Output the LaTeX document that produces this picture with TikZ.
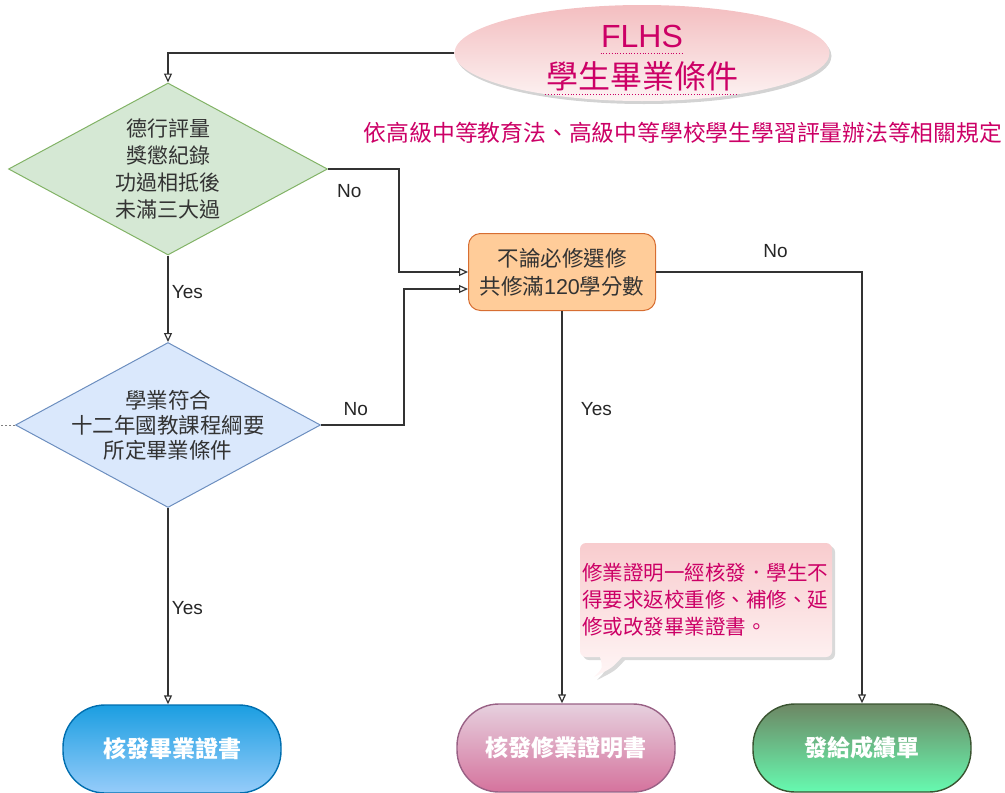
\documentclass[tikz,border=0pt]{standalone}
\usepackage{fontspec}
\setmainfont{Noto Sans CJK TC}
\newfontfamily\latinsf{Liberation Sans}
\usetikzlibrary{shapes.geometric,arrows.meta,shadows,calc}

\definecolor{flhs}{RGB}{204,0,102}
\definecolor{ink}{RGB}{51,51,51}

\begin{document}
\begin{tikzpicture}[x=1pt, y=-1pt, line width=1.2pt,
    every node/.style={font=\fontsize{21}{27}\selectfont, text=ink},
    arr/.style={draw=ink, -{Triangle[open,length=9pt,width=8pt]}},
    lbl/.style={font=\latinsf\fontsize{19}{22}\selectfont, text=black!85},
    dia/.style={diamond, line width=1pt, inner sep=0pt},
    dtext/.style={align=center, inner sep=0pt},
    term/.style={rectangle, rounded corners=42pt, minimum width=218pt,
      minimum height=88pt, line width=1.4pt, text=white,
      font=\fontsize{23}{27}\selectfont\bfseries},
    uline/.style={draw=flhs, line width=0.8pt, dotted}]
  %---- page
  \useasboundingbox (0,0) rectangle (1005,793);

  %---- title
  \node[ellipse, minimum width=375pt, minimum height=96pt,
    top color={rgb,255:red,243;green,190;blue,192},
    bottom color={rgb,255:red,253;green,243;blue,243},
    drop shadow={shadow xshift=2pt, shadow yshift=-3pt, opacity=0.35}]
    (title) at (642,53) {};
  \node[anchor=base, text=flhs, font=\latinsf\fontsize{32}{38}\selectfont, inner sep=0pt]
    (flhs) at (642,47) {FLHS};
  \node[anchor=base, text=flhs, font=\fontsize{32}{38}\selectfont, inner sep=0pt]
    (grad) at (642,88) {學生畢業條件};
  \draw[uline] ([yshift=-6pt]flhs.base west) -- ([yshift=-6pt]flhs.base east);
  \draw[uline] ([yshift=-6pt]grad.base west) -- ([yshift=-6pt]grad.base east);
  \node[text=flhs, font=\fontsize{22.8}{27}\selectfont] (rule) at (683,133)
    {依高級中等教育法、高級中等學校學生學習評量辦法等相關規定};

  %---- decisions
  \node[dia, minimum width=319pt, minimum height=172pt,
    fill={rgb,255:red,213;green,232;blue,212}, draw={rgb,255:red,130;green,179;blue,102}]
    (merit) at (168,169) {};
  \node[dtext] (merit-txt) at (merit) {德行評量\\獎懲紀錄\\功過相抵後\\未滿三大過};
  \node[dia, minimum width=305pt, minimum height=165pt,
    fill={rgb,255:red,218;green,232;blue,252}, draw={rgb,255:red,108;green,142;blue,191}]
    (acad) at (168,425) {};
  \node[dtext, font=\fontsize{21.5}{25}\selectfont] (acad-txt) at (acad)
    {學業符合\\十二年國教課程綱要\\所定畢業條件};
  \coordinate (offleft) at (0,425);
  \draw[gray, line width=1pt, dash pattern=on 2pt off 2pt] (acad.west) -- (offleft);

  %---- credits box
  \node[rectangle, rounded corners=12pt, minimum width=187pt, minimum height=77pt,
    line width=1pt, fill={rgb,255:red,255;green,204;blue,153},
    draw={rgb,255:red,215;green,110;blue,50}, align=center,
    font=\fontsize{21.5}{28}\selectfont]
    (credits) at (562,272) {不論必修選修\\共修滿{\latinsf 120}學分數};

  %---- results
  \node[term, top color={rgb,255:red,27;green,158;blue,225},
    bottom color={rgb,255:red,150;green,204;blue,250},
    draw={rgb,255:red,0;green,110;blue,175}] (diploma) at (172,749) {核發畢業證書};
  \node[term, top color={rgb,255:red,230;green,208;blue,222},
    bottom color={rgb,255:red,213;green,115;blue,157},
    draw={rgb,255:red,153;green,97;blue,133}] (cert) at (566,748) {核發修業證明書};
  \node[term, top color={rgb,255:red,109;green,135;blue,100},
    bottom color={rgb,255:red,102;green,250;blue,176},
    draw={rgb,255:red,58;green,84;blue,49}] (report) at (862,748) {發給成績單};

  %---- note
  \path[top color={rgb,255:red,248;green,204;blue,206},
    bottom color={rgb,255:red,255;green,246;blue,246},
    drop shadow={shadow xshift=3pt, shadow yshift=-3pt, opacity=0.3}]
    [rounded corners=6pt] (580,543) -- (832,543) -- (832,657)
    [sharp corners] -- (622,657) .. controls (612,668) .. (594,677)
    .. controls (603,668) .. (600,657) [rounded corners=6pt] -- (580,657) -- cycle;
  \node[text=flhs, text width=252pt, align=left, inner sep=0pt,
    font=\fontsize{20.5}{27}\selectfont] (note) at (708,600)
    {修業證明一經核發．學生不\\得要求返校重修、補修、延\\修或改發畢業證書。};

  %---- connectors
  \draw[arr] (title.west) -| (merit.north);
  \draw[arr] (merit.south) -- node[lbl, right, pos=.42] {Yes} (acad.north);
  \draw[arr] (merit.east) -- node[lbl, pos=.3, below=11pt] {No} ++(71,0)
    |- (credits.west);
  \draw[arr] (acad.east) -- node[lbl, pos=.42, above=5pt] {No} ++(83,0)
    |- ([yshift=-17pt]credits.west);
  \draw[arr] (acad.south) -- node[lbl, right, pos=.51] {Yes} (acad.south |- diploma.north);
  \draw[arr] (credits.south) -- node[lbl, right=15pt, pos=.25] {Yes}
    (credits.south |- cert.north);
  \draw[arr] (credits.east) -| node[lbl, pos=.29, above=10pt] {No} (report.north);
\end{tikzpicture}
\end{document}
